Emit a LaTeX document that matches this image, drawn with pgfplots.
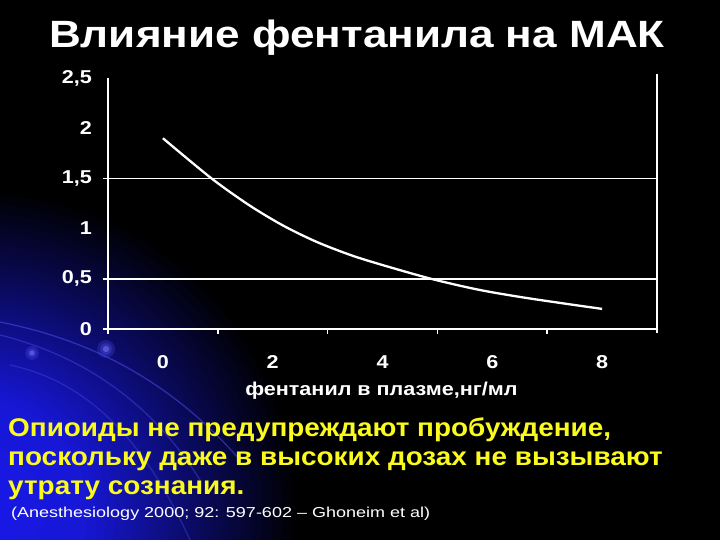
\documentclass[border=0pt]{standalone}
\usepackage{pgfplots}
\pgfplotsset{compat=1.18}
\usepackage{fontspec}
\setmainfont{Liberation Sans}[FakeStretch=1.16]
\newfontfamily\yellowfont{Liberation Sans}[FakeStretch=1.09]
\newfontfamily\citefont{Liberation Sans}[FakeStretch=1.25]
\definecolor{slideyellow}{RGB}{250,250,30}
\definecolor{slideblue}{RGB}{25,25,235}
\definecolor{arcblue}{RGB}{80,80,240}
\pgfdeclareradialshading{glow}{\pgfpoint{0bp}{0bp}}{%
  color(0bp)=(slideblue); color(8bp)=(slideblue!90!black);
  color(16bp)=(slideblue!40!black); color(23bp)=(black); color(50bp)=(black)}

% MAC vs plasma fentanyl
\pgfplotstableread{
x      mac
0      1.90
0.885  1.50
1.58   1.23
2.19   1.03
2.79   0.87
3.40   0.74
3.95   0.645
4.885  0.50
5.76   0.39
6.67   0.305
8      0.20
}\macdata

\begin{document}
\begin{tikzpicture}[x=1bp,y=1bp]
  % slide background
  \fill[black] (0,0) rectangle (720,540);
  \begin{scope}
    \clip (0,0) rectangle (720,540);
    \shade[shading=glow] (-25,30) circle (350);
    \draw[arcblue, opacity=.5, line width=1.3bp] (0,218) .. controls (90,200) and (170,160) .. (240,80);
    \draw[arcblue, opacity=.4, line width=1.3bp] (0,205) .. controls (80,185) and (150,140) .. (200,60);
    \draw[arcblue, opacity=.35, line width=1.3bp] (10,175) .. controls (80,160) and (140,110) .. (190,0);
    \foreach \cx/\cy/\r in {32/187/7, 106/191/9} {
      \fill[arcblue, opacity=.25] (\cx,\cy) circle (\r);
      \fill[arcblue, opacity=.35] (\cx,\cy) circle (0.65*\r);
      \fill[arcblue!70!white, opacity=.45] (\cx,\cy) circle (0.35*\r);
    }
  \end{scope}
  \useasboundingbox (0,0) rectangle (720,540);

  % title
  \node[anchor=base, text=white, font=\bfseries\fontsize{38bp}{40bp}\selectfont]
    at (357,492) {Влияние фентанила на МАК};

  \begin{axis}[
    at={(108bp,211bp)}, anchor=south west,
    scale only axis, width=549bp, height=251bp,
    xmin=-1, xmax=9, ymin=0, ymax=2.5,
    axis line style={draw=none},
    xtick={0,2,4,6,8},
    xticklabels={0,2,4,6,8},
    ytick={0,0.5,1,1.5,2,2.5},
    yticklabels={0,{0,5},1,{1,5},2,{2,5}},
    major tick length=0pt,
    tick style={draw=none},
    ticklabel style={text=white, font=\bfseries\fontsize{18.6bp}{20bp}\selectfont, inner sep=0pt},
    yticklabel style={xshift=-16bp},
    xticklabel style={yshift=-26.5bp},
    xlabel={фентанил в плазме,нг/мл},
    xlabel style={at={(axis description cs:0.498,-0.263)}, anchor=base,
      text=white, font=\bfseries\fontsize{18.6bp}{20bp}\selectfont},
    clip=false,
  ]
    % axis frame: left, bottom, right
    \draw[white, line width=1.6bp] (axis cs:-1,2.5) -- (axis cs:-1,0) -- (axis cs:9,0);
    \draw[white, line width=1.6bp] ([yshift=-4bp]axis cs:9,0) -- ([yshift=4bp]axis cs:9,2.5);
    % grid lines at 0.5 and 1.5, with short outer ticks
    \draw[white, line width=1.6bp] (axis cs:-1.1,0.5) -- (axis cs:9,0.5);
    \draw[white, line width=1.6bp] (axis cs:-1.1,1.5) -- (axis cs:9,1.5);
    \draw[white, line width=1.6bp] (axis cs:-1.1,0) -- (axis cs:-1,0);
    \pgfplotsinvokeforeach{-1,1,3,5,7}{
      \draw[white, line width=1.6bp] (axis cs:#1,0) -- ([yshift=-5bp]axis cs:#1,0);
    }
    \addplot[white, line width=2.3bp, smooth, no marks] table[x=x, y=mac] {\macdata};
  \end{axis}

  % caption text
  \begin{scope}[every node/.style={anchor=base west, inner sep=0pt, text=slideyellow,
      font=\yellowfont\bfseries\fontsize{25.6bp}{29bp}\selectfont}]
    \node at (8,103) {Опиоиды не предупреждают пробуждение,};
    \node at (8,74) {поскольку даже в высоких дозах не вызывают};
    \node at (8,45) {утрату сознания.};
  \end{scope}
  \node[anchor=base west, inner sep=0pt, text=white, font=\citefont\fontsize{14.4bp}{17bp}\selectfont]
    at (11,22) {(Anesthesiology 2000; 92: 597-602 – Ghoneim et al)};
\end{tikzpicture}
\end{document}
